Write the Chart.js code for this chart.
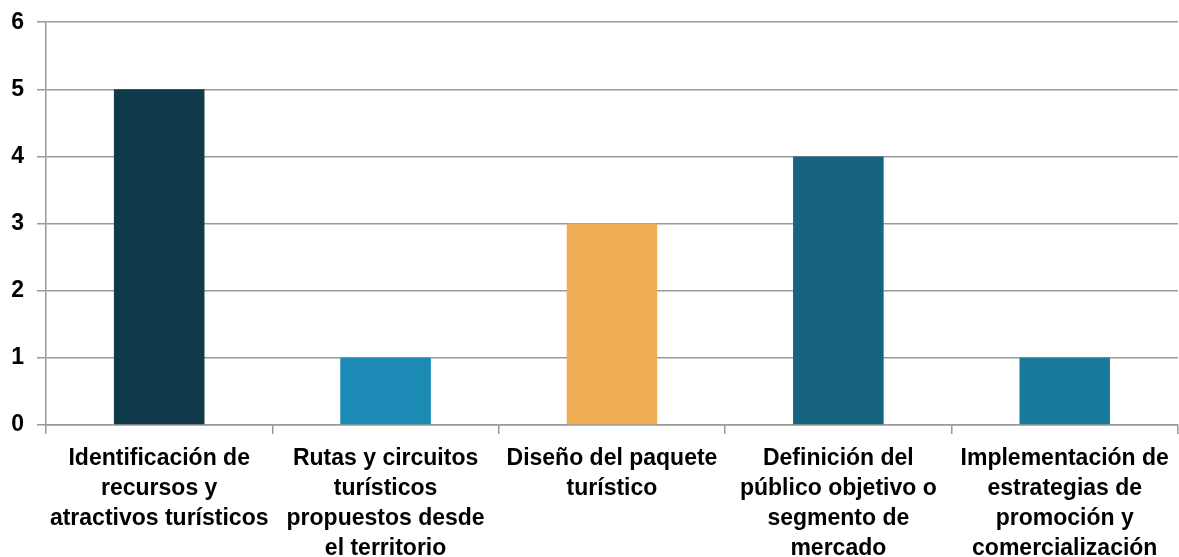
<!DOCTYPE html>
<html>
<head>
<meta charset="utf-8">
<script src="https://cdn.jsdelivr.net/npm/chart.js@4/dist/chart.umd.min.js"></script>
<style>
  html, body { margin: 0; padding: 0; background: #fff; }
  #wrap { width: 1179px; height: 557px; }
</style>
</head>
<body>
<div id="wrap"><canvas id="barChart"></canvas></div>
<script>
const categories = [
  ['Identificación de', 'recursos y', 'atractivos turísticos'],
  ['Rutas y circuitos', 'turísticos', 'propuestos desde', 'el territorio'],
  ['Diseño del paquete', 'turístico'],
  ['Definición del', 'público objetivo o', 'segmento de', 'mercado'],
  ['Implementación de', 'estrategias de', 'promoción y', 'comercialización']
];
const values = [5, 1, 3, 4, 1];
const barColors = ['#0f3a4a', '#1b8ab5', '#f0ae55', '#16647f', '#1a7a9c'];
const yTicks = [0, 1, 2, 3, 4, 5, 6];

var barChart = new Chart(
  document.getElementById('barChart'),
  {
    type: 'bar',
    data: {
      labels: categories,
      datasets: [
        {
          data: values,
          backgroundColor: barColors,
          barPercentage: 0.4,
          categoryPercentage: 1.0,
        }
      ]
    },
    options: {
      animation: false,
      responsive: true,
      maintainAspectRatio: false,
      layout: {
        padding: { top: 22, right: 1, left: 0, bottom: 0 }
      },
      plugins: {
        legend: { display: false },
        tooltip: { enabled: false }
      },
      scales: {
        x: {
          grid: {
            offset: true,
            drawOnChartArea: false,
            drawTicks: true,
            tickLength: 9,
            color: '#999999',
            lineWidth: 1.5
          },
          border: { color: '#999999', width: 1.5 },
          ticks: {
            color: '#000000',
            maxRotation: 0,
            minRotation: 0,
            autoSkip: false,
            padding: 10,
            font: { family: '"Liberation Sans", Arial, sans-serif', size: 23, weight: 'bold', lineHeight: 1.3 }
          },
          afterFit: axis => { axis.height = 132; }
        },
        y: {
          min: 0,
          max: 6,
          afterBuildTicks: axis => { axis.ticks = yTicks.map(v => ({ value: v })); },
          grid: {
            color: '#999999',
            lineWidth: 1.5,
            tickLength: 9
          },
          border: { color: '#999999', width: 1.5 },
          ticks: {
            color: '#000000',
            padding: 13,
            font: { family: '"Liberation Sans", Arial, sans-serif', size: 23, weight: 'bold', lineHeight: 0.8 }
          },
          afterFit: axis => { axis.width = 46; }
        }
      }
    }
  }
);
</script>
</body>
</html>
